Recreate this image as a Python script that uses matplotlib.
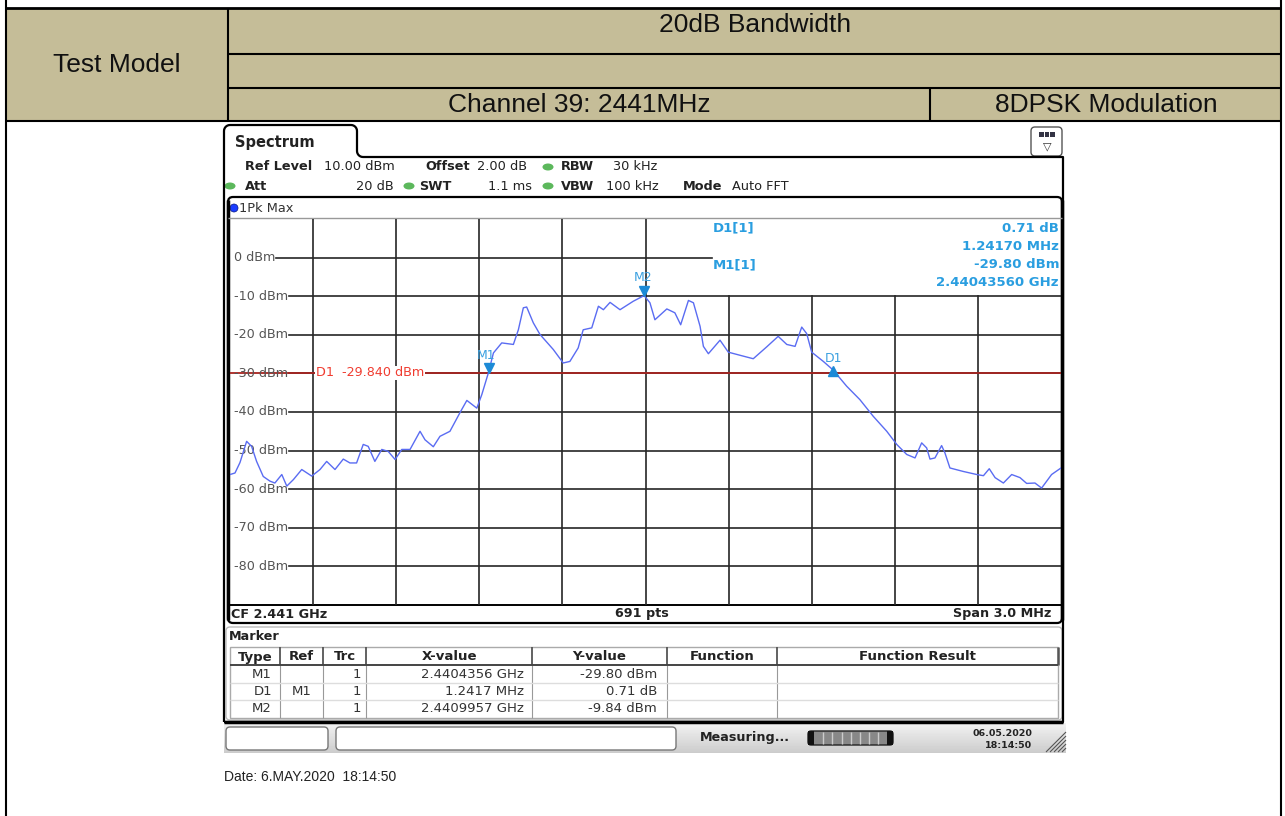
import numpy as np
import matplotlib.pyplot as plt
from matplotlib.patches import Rectangle, FancyBboxPatch, Ellipse

plt.rcParams['font.family'] = ['DejaVu Sans']

# trace (MHz, dBm)
freq_mhz = [2439.500, 2439.518, 2439.536, 2439.560, 2439.578, 2439.596, 2439.620, 2439.644,
            2439.662, 2439.687, 2439.705, 2439.729, 2439.759, 2439.795, 2439.825, 2439.849,
            2439.879, 2439.909, 2439.933, 2439.957, 2439.981, 2439.999, 2440.023, 2440.048,
            2440.071, 2440.096, 2440.120, 2440.150, 2440.186, 2440.204, 2440.234, 2440.258,
            2440.294, 2440.330, 2440.355, 2440.391, 2440.409, 2440.433, 2440.451, 2440.481,
            2440.523, 2440.541, 2440.559, 2440.571, 2440.595, 2440.619, 2440.667, 2440.703,
            2440.727, 2440.757, 2440.775, 2440.806, 2440.830, 2440.848, 2440.872, 2440.908,
            2440.956, 2440.995, 2441.016, 2441.034, 2441.077, 2441.106, 2441.127, 2441.155,
            2441.173, 2441.197, 2441.209, 2441.227, 2441.269, 2441.299, 2441.341, 2441.389,
            2441.438, 2441.479, 2441.510, 2441.540, 2441.564, 2441.582, 2441.600, 2441.642,
            2441.677, 2441.726, 2441.774, 2441.822, 2441.871, 2441.907, 2441.943, 2441.973,
            2441.997, 2442.015, 2442.027, 2442.045, 2442.069, 2442.081, 2442.099, 2442.147,
            2442.196, 2442.220, 2442.241, 2442.262, 2442.292, 2442.322, 2442.352, 2442.376,
            2442.406, 2442.430, 2442.466, 2442.500]
level_dbm = [-56.2, -55.8, -53.1, -47.6, -48.9, -52.8, -56.7, -57.9, -58.4, -56.2, -59.2, -57.5,
             -54.9, -56.6, -54.9, -52.8, -54.9, -52.2, -53.2, -53.2, -48.4, -48.9, -52.8, -49.7,
             -50.2, -52.3, -49.7, -49.7, -45.0, -47.2, -49.0, -46.3, -45.0, -40.2, -37.0, -39.0,
             -35.5, -29.8, -24.7, -22.1, -22.5, -18.7, -13.0, -12.8, -16.9, -19.9, -23.8, -27.3,
             -26.9, -23.4, -18.7, -18.2, -12.6, -13.5, -11.6, -13.5, -11.3, -9.84, -11.7, -16.1,
             -13.3, -14.3, -17.4, -11.1, -11.7, -17.8, -23.0, -24.9, -21.4, -24.5, -25.3, -26.2,
             -23.1, -20.4, -22.5, -23.0, -18.0, -19.7, -24.5, -26.9, -29.1, -33.3, -36.8, -41.1,
             -45.0, -48.4, -51.0, -51.9, -48.0, -49.3, -52.2, -51.9, -48.7, -50.6, -54.5, -55.4,
             -56.2, -56.5, -54.7, -57.0, -58.4, -56.2, -57.0, -58.5, -58.4, -59.7, -56.2, -54.5]

ref_levels = [0, -10, -20, -30, -40, -50, -60, -70, -80]
grid_freqs = [2439.8, 2440.1, 2440.4, 2440.7, 2441.0, 2441.3, 2441.6, 2441.9, 2442.2]
f_start, f_stop = 2439.5, 2442.5
y_top, y_bot = 10, -90

m1_freq, m1_level = 2440.4356, -29.80
m2_freq, m2_level = 2440.9957, -9.84
d1_offset, d1_delta = 1.2417, 0.71
d1_line = -29.840

header_title = '20dB Bandwidth'
header_left = 'Test Model'
header_channel = 'Channel 39: 2441MHz'
header_mod = '8DPSK Modulation'

tbl_cols = ['Type', 'Ref', 'Trc', 'X-value', 'Y-value', 'Function', 'Function Result']
tbl_type = ['M1', 'D1', 'M2']
tbl_ref = ['', 'M1', '']
tbl_trc = ['1', '1', '1']
tbl_x = ['2.4404356 GHz', '1.2417 MHz', '2.4409957 GHz']
tbl_y = ['-29.80 dBm', '0.71 dB', '-9.84 dBm']

W, H = 1285, 816
fig = plt.figure(figsize=(W / 100, H / 100), dpi=100)
ov = fig.add_axes([0, 0, 1, 1])
ov.set_xlim(0, W)
ov.set_ylim(H, 0)
ov.axis('off')


def line(xs, ys, lw=1.5, c='black', **kw):
    ov.plot(xs, ys, color=c, lw=lw, solid_capstyle='butt', **kw)


# ---- report table header ----
tan = '#c5bd98'
ov.add_patch(Rectangle((6, 8), 1275, 114, facecolor=tan, edgecolor='none'))
line([6, 6], [0, H])
line([1281, 1281], [0, H])
line([6, 1281], [8, 8], lw=2)
line([6, 1281], [121, 121])
line([228, 1281], [54, 54])
line([228, 1281], [88, 88])
line([228, 228], [8, 121])
line([930, 930], [88, 121])
hf = dict(family='Liberation Sans', fontsize=19, color='#111', va='center', ha='center')
ov.text(117, 65, header_left, **hf)
ov.text(755, 25, header_title, **hf)
ov.text(579, 105, header_channel, **hf)
ov.text(1106, 105, header_mod, **hf)

# ---- instrument window outline ----
def arc(cx, cy, r, a0, a1):
    t = np.radians(np.linspace(a0, a1, 8))
    return list(cx + r * np.cos(t)), list(cy - r * np.sin(t))

xs, ys = [224], [722]
for seg in [([224], [131]), arc(230, 131, 6, 180, 90), ([351], [125]), arc(351, 131, 6, 90, 0),
            ([357], [151]), arc(363, 151, 6, 180, 270), ([1063], [157]), ([1063], [722]), ([224], [722])]:
    xs += seg[0]
    ys += seg[1]
line(xs, ys, lw=1.6)
line([224, 1063], [722, 722], lw=2.5)
ov.text(235, 142, 'Spectrum', fontsize=10.5, fontweight='bold', color='#222', va='center')

# menu icon
ov.add_patch(FancyBboxPatch((1031, 127), 31, 29, boxstyle='round,pad=0,rounding_size=4',
                            facecolor='white', edgecolor='#555', lw=1))
for k in range(3):
    ov.add_patch(Rectangle((1039 + k * 5.5, 132), 4.5, 5, facecolor='#334', edgecolor='none'))
ov.text(1047, 146, '▽', fontsize=8, ha='center', va='center', color='#333')

# settings rows
inf = dict(fontsize=9.3, va='center', color='#222')
green = '#5cb85c'
ov.text(245, 167, 'Ref Level', fontweight='bold', **inf)
ov.text(324, 167, '10.00 dBm', **inf)
ov.text(425, 167, 'Offset', fontweight='bold', **inf)
ov.text(477, 167, '2.00 dB', **inf)
ov.text(561, 167, 'RBW', fontweight='bold', **inf)
ov.text(613, 167, '30 kHz', **inf)
ov.text(245, 186, 'Att', fontweight='bold', **inf)
ov.text(394, 186, '20 dB', ha='right', **inf)
ov.text(419, 186, 'SWT', fontweight='bold', **inf)
ov.text(532, 186, '1.1 ms', ha='right', **inf)
ov.text(561, 186, 'VBW', fontweight='bold', **inf)
ov.text(606, 186, '100 kHz', **inf)
ov.text(683, 186, 'Mode', fontweight='bold', **inf)
ov.text(732, 186, 'Auto FFT', **inf)
for gx, gy in [(548, 167), (230, 186), (409, 186), (548, 186)]:
    ov.add_patch(Ellipse((gx, gy), 11, 7, facecolor=green, edgecolor='none'))

# ---- plot box ----
ov.add_patch(FancyBboxPatch((228, 197), 834, 426, boxstyle='round,pad=0,rounding_size=5',
                            facecolor='white', edgecolor='black', lw=1.6))
line([228, 228], [200, 620], lw=2.5)
line([1062, 1062], [200, 620], lw=2.5)
line([228, 1062], [218, 218], lw=1, c='#999')
line([228, 1062], [605, 605], lw=1.4)
ov.add_patch(Ellipse((234, 208), 8, 8, facecolor='#1a3cff', edgecolor='#0a1a80', lw=0.5))
ov.text(239, 208, '1Pk Max', fontsize=9.3, va='center', color='#333')
bf = dict(fontsize=9.2, fontweight='bold', va='center', color='#222')
ov.text(231, 614, 'CF 2.441 GHz', **bf)
ov.text(642, 614, '691 pts', ha='center', **bf)
ov.text(1051, 614, 'Span 3.0 MHz', ha='right', **bf)

# marker readout (top right of the diagram)
mc = '#2a9ee0'
mf = dict(fontsize=9.5, fontweight='bold', color=mc, va='center')
ov.text(713, 228, 'D1[1]', **mf)
ov.text(1059, 228, f'{d1_delta:.2f} dB', ha='right', **mf)
ov.text(1059, 246, f'{d1_offset:.5f} MHz', ha='right', **mf)
ov.text(713, 265, 'M1[1]', **mf)
ov.text(1059, 265, f'{m1_level:.2f} dBm', ha='right', **mf)
ov.text(1059, 283, f'{m1_freq / 1000:.8f} GHz', ha='right', **mf)

# ---- trace diagram ----
ax = fig.add_axes([230 / W, (H - 605) / H, 831 / W, 386 / H])
ax.set_xlim(f_start, f_stop)
ax.set_ylim(y_bot, y_top)
ax.axis('off')
ax.patch.set_alpha(0)

readout_f = f_start + (712 - 230) / 831 * (f_stop - f_start)
gc = '#262626'
for f in grid_freqs:
    top = -10 if f > readout_f else y_top
    ax.plot([f, f], [y_bot, top], color=gc, lw=1.2)

renderer = fig.canvas.get_renderer()
for lv in ref_levels:
    t = ax.text(f_start + 0.014, lv, f'{lv} dBm', fontsize=9.2, color='#555', va='center', ha='left')
    bb = t.get_window_extent(renderer)
    x0 = ax.transData.inverted().transform((bb.x1 + 1, 0))[0]
    x1 = readout_f if lv == 0 else f_stop
    ax.plot([x0, x1], [lv, lv], color=gc, lw=1.2)

ax.axhline(d1_line, color='#a82420', lw=1.3)
ax.text(f_start + 0.31, d1_line, f'D1  {d1_line:.3f} dBm', fontsize=9.2, color='#f03c30',
        va='center', ha='left', bbox=dict(facecolor='white', edgecolor='none', pad=0.3))

ax.plot(freq_mhz, level_dbm, color='#5a6cf2', lw=1.0, zorder=5)

d1_freq = m1_freq + d1_offset
ax.plot([m1_freq], [m1_level + 1.3], marker='v', ms=7, color='#1c8ad6', zorder=6)
ax.plot([m2_freq], [m2_level + 1.3], marker='v', ms=7, color='#1c8ad6', zorder=6)
ax.plot([d1_freq], [d1_line + 0.4], marker='^', ms=7, color='#1c8ad6', zorder=6)
lf = dict(fontsize=9, color='#3aa0e0', ha='center', va='center', zorder=7)
ax.text(m1_freq - 0.01, -25.4, 'M1', **lf)
ax.text(m2_freq - 0.005, -5.2, 'M2', **lf)
ax.text(d1_freq + 0.0, -26.2, 'D1', **lf)

# ---- marker table ----
ov.add_patch(FancyBboxPatch((226, 627), 836, 93, boxstyle='round,pad=0,rounding_size=4',
                            facecolor='white', edgecolor='#bbb', lw=1))
ov.text(229, 636, 'Marker', **bf)
cx = [230, 280, 323, 366, 532, 667, 777, 1058]
ov.add_patch(Rectangle((230, 647), 828, 71, facecolor='white', edgecolor='#aaa', lw=1))
tb = dict(fontsize=9.5, fontweight='bold', va='center', color='#222')
for i, name in enumerate(tbl_cols):
    ov.text((cx[i] + cx[i + 1]) / 2, 657, name, ha='center', **tb)
for x in cx[1:-1]:
    line([x, x], [647, 665], lw=1.3, c='#555')
    line([x, x], [665, 718], lw=0.8, c='#999')
line([1058, 1058], [647, 665], lw=1.8, c='#555')
line([230, 1058], [665, 665], lw=1.4, c='#444')
for ry in [683, 700]:
    line([230, 1058], [ry, ry], lw=1, c='#ddd')
rf = dict(fontsize=9.5, va='center', color='#333')
for i in range(len(tbl_type)):
    y = 674 + i * 17.5
    ov.text(272, y, tbl_type[i], ha='right', **rf)
    ov.text(302, y, tbl_ref[i], ha='center', **rf)
    ov.text(361, y, tbl_trc[i], ha='right', **rf)
    ov.text(524, y, tbl_x[i], ha='right', **rf)
    ov.text(657, y, tbl_y[i], ha='right', **rf)

# ---- status bar ----
grad = np.linspace(0.95, 0.80, 30).reshape(-1, 1)
ov.imshow(grad, cmap='gray', vmin=0, vmax=1, extent=(224, 1066, 753, 723), aspect='auto', zorder=0)
for bx, bw in [(226, 102), (336, 340)]:
    ov.add_patch(FancyBboxPatch((bx, 727), bw, 23, boxstyle='round,pad=0,rounding_size=4',
                                facecolor='white', edgecolor='#777', lw=1))
ov.text(700, 738, 'Measuring...', **bf)
ov.add_patch(FancyBboxPatch((808, 731), 85, 14, boxstyle='round,pad=0,rounding_size=3',
                            facecolor='#888', edgecolor='#222', lw=1))
ov.add_patch(Rectangle((808, 731), 6, 14, facecolor='#111', edgecolor='none'))
ov.add_patch(Rectangle((887, 731), 6, 14, facecolor='#111', edgecolor='none'))
for k in range(1, 8):
    line([814 + k * 9.2, 814 + k * 9.2], [732, 744], lw=1, c='#ccc')
ov.text(1032, 734, '06.05.2020', fontsize=6.8, fontweight='bold', ha='right', va='center', color='#222')
ov.text(1032, 745, '18:14:50', fontsize=6.8, fontweight='bold', ha='right', va='center', color='#222')
for k in range(5):
    line([1046 + k * 4, 1066], [752, 752 - (20 - k * 4)], lw=0.8, c='#555')

ov.text(224, 777, 'Date: 6.MAY.2020  18:14:50', family='Liberation Sans', fontsize=10,
        va='center', color='#222')

fig.savefig('out.png', dpi=100)
